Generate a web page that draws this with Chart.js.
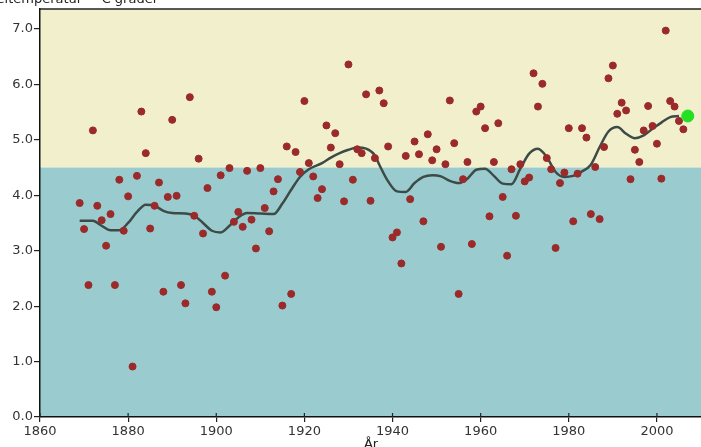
<!DOCTYPE html>
<html>
<head>
<meta charset="utf-8">
<script src="https://cdn.jsdelivr.net/npm/chart.js@4.4.0/dist/chart.umd.min.js"></script>
<style>
    html, body { margin: 0; padding: 0; background: #fff; }
    #wrap { width: 701px; height: 447px; }
</style>
</head>
<body>
<div id="wrap"><canvas id="chart" width="701" height="447"></canvas></div>
<script>
// yearly mean temperature, one value per year from firstYear
const firstYear = 1869;
const yearlyValues = [
    3.86, 3.39, 2.38, 5.17, 3.81, 3.55, 3.09, 3.66, 2.38, 4.28, // 1869-1878
    3.36, 3.98, 0.91, 4.35, 5.51, 4.76, 3.40, 3.81, 4.23, 2.26, // 1879-1888
    3.97, 5.36, 3.99, 2.38, 2.05, 5.77, 3.63, 4.66, 3.31, 4.13, // 1889-1898
    2.26, 1.98, 4.36, 2.55, 4.49, 3.52, 3.70, 3.43, 4.44, 3.56, // 1899-1908
    3.04, 4.49, 3.77, 3.35, 4.07, 4.29, 2.01, 4.88, 2.22, 4.78, // 1909-1918
    4.42, 5.70, 4.58, 4.34, 3.95, 4.11, 5.26, 4.86, 5.12, 4.56, // 1919-1928
    3.89, 6.36, 4.28, 4.83, 4.76, 5.82, 3.90, 4.67, 5.89, 5.66, // 1929-1938
    4.88, 3.24, 3.33, 2.77, 4.71, 3.93, 4.97, 4.74, 3.53, 5.10, // 1939-1948
    4.63, 4.83, 3.07, 4.56, 5.71, 4.94, 2.22, 4.29, 4.60, 3.12, // 1949-1958
    5.51, 5.60, 5.21, 3.62, 4.60, 5.30, 3.97, 2.91, 4.47, 3.63, // 1959-1968
    4.56, 4.25, 4.32, 6.20, 5.60, 6.01, 4.67, 4.47, 3.05, 4.22, // 1969-1978
    4.41, 5.21, 3.53, 4.39, 5.21, 5.04, 3.66, 4.51, 3.57, 4.87, // 1979-1988
    6.11, 6.34, 5.47, 5.67, 5.53, 4.29, 4.82, 4.60, 5.17, 5.61, // 1989-1998
    5.25, 4.93, 4.30, 6.97, 5.70, 5.60, 5.34, 5.19              // 1999-2006
];

// smoothed curve
const smoothYears = [
    1869, 1872, 1874, 1876, 1878, 1880, 1882, 1884, 1886, 1888, 1890, 1893, 1895,
    1897, 1899, 1901, 1903, 1905, 1907, 1910, 1913, 1915, 1917, 1919, 1921, 1924,
    1926, 1928, 1930, 1932, 1934, 1936, 1937, 1939, 1941, 1943, 1945, 1947, 1949,
    1951, 1953, 1955, 1957, 1959, 1961, 1963, 1965, 1967, 1969, 1971, 1973, 1975,
    1977, 1979, 1981, 1983, 1985, 1987, 1989, 1991, 1993, 1995, 1997, 1999, 2001,
    2003, 2005
];
const smoothValues = [
    3.54, 3.54, 3.45, 3.37, 3.37, 3.50, 3.70, 3.83, 3.81, 3.72, 3.68, 3.67, 3.63,
    3.50, 3.36, 3.33, 3.45, 3.60, 3.68, 3.67, 3.66, 3.85, 4.10, 4.33, 4.47, 4.58,
    4.68, 4.76, 4.82, 4.86, 4.84, 4.72, 4.55, 4.25, 4.07, 4.06, 4.22, 4.33, 4.36,
    4.34, 4.26, 4.22, 4.30, 4.46, 4.48, 4.35, 4.21, 4.20, 4.48, 4.75, 4.84, 4.69,
    4.42, 4.33, 4.35, 4.43, 4.55, 4.87, 5.15, 5.23, 5.11, 5.03, 5.08, 5.20, 5.31,
    5.41, 5.43
];

// latest value (green marker)
const latestYear = [2007];
const latestValue = [5.43];

const xTickValues = [1860, 1880, 1900, 1920, 1940, 1960, 1980, 2000];
const yTickValues = [0, 1, 2, 3, 4, 5, 6, 7];
const bandSplit = 4.5;

const titleText = 'Medeltemperatur - °C grader';
const xTitleText = 'År';

let scatterPoints = yearlyValues.map(function(v, i) {
    return { x: firstYear + i, y: v };
});
let smoothPoints = smoothValues.map(function(v, i) {
    return { x: smoothYears[i], y: v };
});
let latestPoints = latestValue.map(function(v, i) {
    return { x: latestYear[i], y: v };
});

const backgroundPlugin = {
    id: 'bands',
    beforeDraw: function(chart) {
        let ctx = chart.ctx;
        let a = chart.chartArea;
        let split = chart.scales.y.getPixelForValue(bandSplit);
        ctx.save();
        ctx.fillStyle = '#f2f0cc';
        ctx.fillRect(a.left, a.top, a.right - a.left, split - a.top);
        ctx.fillStyle = '#99cbcf';
        ctx.fillRect(a.left, split, a.right - a.left, a.bottom - split);
        ctx.restore();
    },
    afterDraw: function(chart) {
        let ctx = chart.ctx;
        let a = chart.chartArea;
        let xScale = chart.scales.x;
        ctx.save();
        // top frame line
        ctx.strokeStyle = '#222';
        ctx.lineWidth = 1.5;
        ctx.beginPath();
        ctx.moveTo(a.left, a.top);
        ctx.lineTo(a.right, a.top);
        ctx.stroke();
        // x tick marks reaching into the plot
        ctx.lineWidth = 1.2;
        xScale.ticks.forEach(function(t) {
            let px = xScale.getPixelForValue(t.value);
            ctx.beginPath();
            ctx.moveTo(px, a.bottom - 4);
            ctx.lineTo(px, a.bottom);
            ctx.stroke();
        });
        // clipped titles
        ctx.fillStyle = '#222';
        ctx.font = '13px "DejaVu Sans"';
        ctx.textAlign = 'right';
        ctx.textBaseline = 'alphabetic';
        ctx.fillText(titleText, 158, 3);
        ctx.textAlign = 'center';
        ctx.textBaseline = 'top';
        ctx.fillText(xTitleText, 371, 438);
        ctx.restore();
    }
};

Chart.defaults.font.family = '"DejaVu Sans", sans-serif';
Chart.defaults.font.size = 13;
Chart.defaults.color = '#333';

let ctx = document.getElementById('chart').getContext('2d');
let chart = new Chart(ctx, {
    type: 'scatter',
    data: {
        datasets: [
            {
                label: 'Senaste',
                data: latestPoints,
                backgroundColor: '#22e022',
                borderColor: '#22e022',
                pointRadius: 6,
                order: 0
            },
            {
                label: 'Årsmedel',
                data: scatterPoints,
                backgroundColor: '#9b2a2a',
                borderColor: '#9b2a2a',
                pointRadius: 3.5,
                order: 1
            },
            {
                label: 'Utjämnad',
                type: 'line',
                data: smoothPoints,
                borderColor: '#3d4b47',
                borderWidth: 2.5,
                pointRadius: 0,
                cubicInterpolationMode: 'monotone',
                fill: false,
                order: 2
            }
        ]
    },
    options: {
        responsive: false,
        animation: false,
        devicePixelRatio: 1,
        layout: { autoPadding: false, padding: { top: 9, right: 0, left: 0, bottom: 0 } },
        plugins: {
            legend: { display: false },
            tooltip: { enabled: false }
        },
        scales: {
            x: {
                type: 'linear',
                min: 1860,
                max: 2010,
                afterBuildTicks: function(scale) {
                    scale.ticks = xTickValues.map(function(v) { return { value: v }; });
                },
                afterFit: function(scale) {
                    scale.height = 30;
                    scale.paddingRight = 0;
                    scale.paddingLeft = 0;
                },
                ticks: {
                    callback: function(v) { return String(v); },
                    maxRotation: 0,
                    autoSkip: false,
                    padding: 2
                },
                grid: { drawOnChartArea: false, tickLength: 5, color: '#222', lineWidth: 1.2 },
                border: { color: '#111', width: 1.5 }
            },
            y: {
                min: 0,
                max: 7.36,
                afterBuildTicks: function(scale) {
                    scale.ticks = yTickValues.map(function(v) { return { value: v }; });
                },
                afterFit: function(scale) {
                    scale.width = 40;
                    scale.paddingTop = 0;
                    scale.paddingBottom = 0;
                },
                ticks: {
                    callback: function(v) { return v.toFixed(1); },
                    padding: 1
                },
                grid: { drawOnChartArea: false, tickLength: 6, color: '#222', lineWidth: 1.2 },
                border: { color: '#111', width: 1.5 }
            }
        }
    },
    plugins: [backgroundPlugin]
});
</script>
</body>
</html>
